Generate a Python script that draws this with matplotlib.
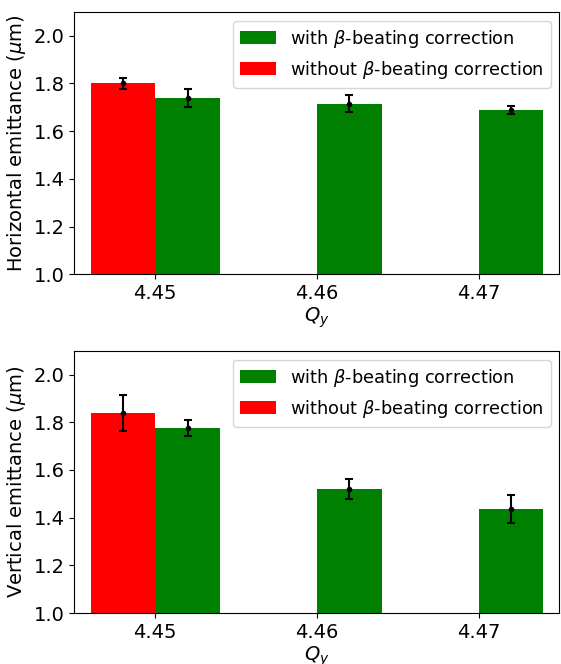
import numpy as np
import matplotlib.pyplot as plt

plt.rcParams['font.size'] = 14

qy = np.array([4.45, 4.46, 4.47])
w = 0.004

# horizontal emittance (um)
h_with = [1.74, 1.715, 1.688]
h_with_err = [0.038, 0.035, 0.018]
h_without = [1.80]
h_without_err = [0.022]

# vertical emittance (um)
v_with = [1.776, 1.521, 1.437]
v_with_err = [0.034, 0.043, 0.059]
v_without = [1.838]
v_without_err = [0.076]

fig = plt.figure(figsize=(5.61, 6.64), dpi=100)
ax1 = fig.add_axes([0.1325, 0.5869, 0.8648, 0.3955])
ax2 = fig.add_axes([0.1325, 0.0768, 0.8648, 0.3950])


def panel(ax, with_v, with_e, wo_v, wo_e, ylabel):
    ax.bar(qy, with_v, width=w, align='edge', color='green',
           label=r'with $\beta$-beating correction')
    ax.bar(qy[:1], wo_v, width=-w, align='edge', color='red',
           label=r'without $\beta$-beating correction')
    ax.errorbar(qy + w / 2, with_v, yerr=with_e, fmt='k.', capsize=3,
                elinewidth=1.5, capthick=1.5, markersize=6)
    ax.errorbar(qy[:1] - w / 2, wo_v, yerr=wo_e, fmt='k.', capsize=3,
                elinewidth=1.5, capthick=1.5, markersize=6)
    ax.set_xlim(4.445, 4.475)
    ax.set_ylim(1.0, 2.1)
    ax.set_xticks(qy)
    ax.set_xticklabels(['4.45', '4.46', '4.47'])
    ax.set_yticks([1.0, 1.2, 1.4, 1.6, 1.8, 2.0])
    ax.set_xlabel('$Q_y$', labelpad=2)
    ax.set_ylabel(ylabel)
    ax.legend(loc='upper right', fontsize=12.8)


panel(ax1, h_with, h_with_err, h_without, h_without_err,
      r'Horizontal emittance ($\mu$m)')
panel(ax2, v_with, v_with_err, v_without, v_without_err,
      r'Vertical emittance ($\mu$m)')

plt.savefig('out.png', dpi=100)
